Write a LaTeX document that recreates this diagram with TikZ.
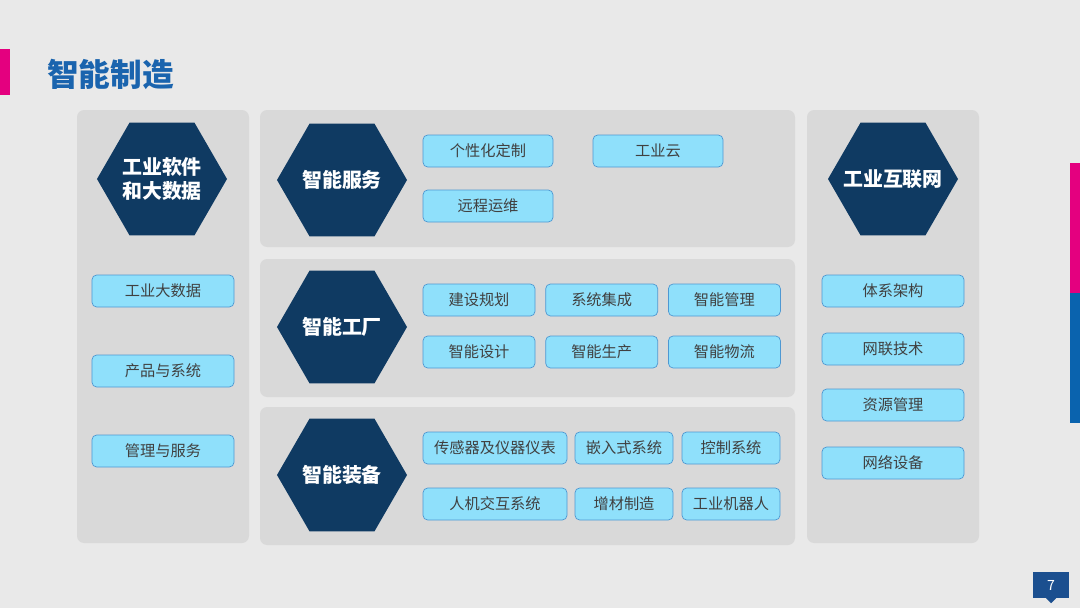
\documentclass[tikz,border=0pt]{standalone}
\usepackage{fontspec}
\setmainfont{Noto Sans CJK SC}
\usepackage{tikz}
\usetikzlibrary{positioning,shapes.geometric}
\definecolor{imPaper}{HTML}{E9E9E9}
\definecolor{imPanel}{HTML}{D9D9D9}
\definecolor{imNavy}{HTML}{0F3A62}
\definecolor{imCyan}{HTML}{8FE0FB}
\definecolor{imEdge}{HTML}{4E98D2}
\definecolor{imText}{HTML}{404040}
\definecolor{imTitle}{HTML}{1A64AE}
\definecolor{imRose}{HTML}{E4007F}
\definecolor{imBlue}{HTML}{0A63AE}
\definecolor{imTag}{HTML}{1B4F8F}
\tikzset{
    panel/.style={fill=imPanel, rounded corners=6pt},
    hexnode/.style={regular polygon, regular polygon sides=6, minimum size=3.9cm, inner sep=0pt, fill=imNavy},
    hextext/.style={text=white, align=center, inner sep=0pt, font=\fontsize{17}{21}\selectfont\bfseries},
    pill/.style={draw=imEdge, line width=0.6pt, rounded corners=4pt, fill=imCyan, text=imText, minimum height=0.96cm, inner sep=0pt, font=\fontsize{13}{15}\selectfont},
    sidepill/.style={pill, minimum width=4.26cm},
    wpill/.style={pill, minimum width=3.9cm},
    fpill/.style={pill, minimum width=3.36cm}
}
\begin{document}
\begin{tikzpicture}[x=0.03cm, y=-0.03cm]
\useasboundingbox (0,0) rectangle (1080,608);
\fill[imPaper] (0,0) rectangle (1080,608);
% accents and title
\fill[imRose] (0,49) rectangle (10,95);
\fill[imRose] (1070,163) rectangle (1080,293);
\fill[imBlue] (1070,293) rectangle (1080,423);
\node[anchor=west, text=imTitle, font=\fontsize{27}{30}\selectfont\bfseries, inner sep=0pt] (title) at (47,74) {智能制造};
% panels
\path[panel] (77,110) rectangle (249,543);
\path[panel] (260,110) rectangle (795,247);
\path[panel] (260,259) rectangle (795,397);
\path[panel] (260,407) rectangle (795,545);
\path[panel] (807,110) rectangle (979,543);
% left column
\node[hexnode] (software) at (162,179) {};
\node[hextext] (softwaretext) at (software) {工业软件\\和大数据};
\node[sidepill] (bigdata) at (163,291) {工业大数据};
\node[sidepill] (product) at (163,371) {产品与系统};
\node[sidepill] (manage) at (163,451) {管理与服务};
% smart service
\node[hexnode] (service) at (342,180) {};
\node[hextext] (servicetext) at (service) {智能服务};
\node[wpill] (custom) at (488,151) {个性化定制};
\node[wpill] (cloud) at (658,151) {工业云};
\node[wpill] (remote) at (488,206) {远程运维};
% smart factory
\node[hexnode] (factory) at (342,327) {};
\node[hextext] (factorytext) at (factory) {智能工厂};
\node[fpill] (plan) at (479,300) {建设规划};
\node[fpill, right=0.3cm of plan] (integ) {系统集成};
\node[fpill, right=0.3cm of integ] (smgmt) {智能管理};
\node[fpill] (design) at (479,352) {智能设计};
\node[fpill, right=0.3cm of design] (produce) {智能生产};
\node[fpill, right=0.3cm of produce] (logist) {智能物流};
% smart equipment
\node[hexnode] (equip) at (342,475) {};
\node[hextext] (equiptext) at (equip) {智能装备};
\node[pill, minimum width=4.32cm] (sensor) at (495,448) {传感器及仪器仪表};
\node[pill, minimum width=2.94cm] (embed) at (624,448) {嵌入式系统};
\node[pill, minimum width=2.94cm] (control) at (731,448) {控制系统};
\node[pill, minimum width=4.32cm] (hmi) at (495,504) {人机交互系统};
\node[pill, minimum width=2.94cm] (additive) at (624,504) {增材制造};
\node[pill, minimum width=2.94cm] (robot) at (731,504) {工业机器人};
% right column
\node[hexnode] (iiot) at (893,179) {};
\node[hextext] (iiottext) at (iiot) {工业互联网};
\node[sidepill] (arch) at (893,291) {体系架构};
\node[sidepill] (netlink) at (893,349) {网联技术};
\node[sidepill] (resource) at (893,405) {资源管理};
\node[sidepill] (device) at (893,463) {网络设备};
% page number
\node[fill=imTag, text=white, minimum width=1.08cm, minimum height=0.78cm, inner sep=0pt, font=\fontsize{12}{14}\selectfont] (pagenum) at (1051,585) {7};
\fill[imTag] ([xshift=-0.15cm]pagenum.south) -- ([yshift=-0.15cm]pagenum.south) -- ([xshift=0.15cm]pagenum.south) -- cycle;
\end{tikzpicture}
\end{document}
